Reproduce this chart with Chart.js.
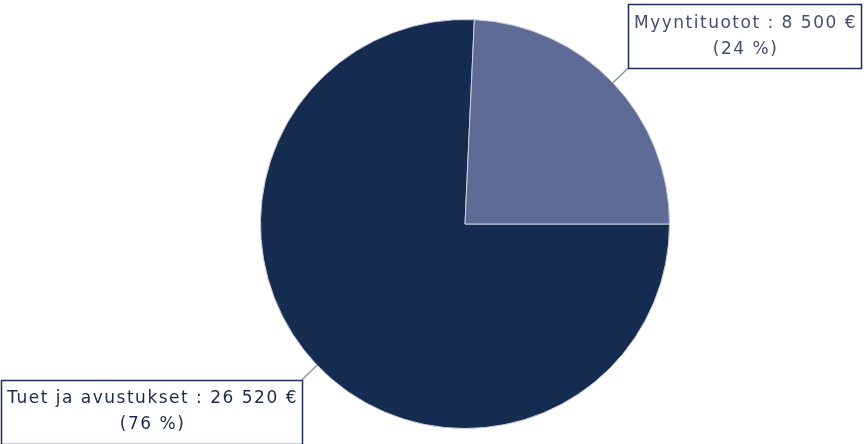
<!DOCTYPE html>
<html>
<head>
<meta charset="utf-8">
<script src="https://cdn.jsdelivr.net/npm/chart.js@4/dist/chart.umd.min.js"></script>
<style>
	html, body { margin: 0; padding: 0; background: #ffffff; }
	#wrap { width: 864px; height: 444px; }
</style>
</head>
<body>
<div id="wrap"><canvas id="pieChart" width="864" height="444"></canvas></div>
<script>
var labels = ['Tuet ja avustukset', 'Myyntituotot'];
var values = [26520, 8500];
var percentLabels = ['(76 %)', '(24 %)'];
var sliceColors = ['#152b4f', '#5e6b94'];

function formatEuro(n) {
	return String(n).replace(/\B(?=(\d{3})+(?!\d))/g, ' ') + ' €';
}

// draws the callout boxes next to each slice
var calloutPlugin = {
	id: 'callouts',
	afterDraw: function(chart) {
		var ctx = chart.ctx;
		var meta = chart.getDatasetMeta(0);
		ctx.save();
		ctx.font = '17px "DejaVu Sans", Verdana, sans-serif';
		ctx.letterSpacing = '1.5px';
		ctx.textAlign = 'center';
		ctx.textBaseline = 'middle';
		for (var i = 0; i < meta.data.length; i++) {
			var arc = meta.data[i];
			var mid = (arc.startAngle + arc.endAngle) / 2;
			var cos = Math.cos(mid), sin = Math.sin(mid);
			var ex = arc.x + cos * arc.outerRadius;
			var ey = arc.y + sin * arc.outerRadius;
			var lx = ex + cos * 21;
			var ly = ey + sin * 21;

			var line1 = labels[i] + ' : ' + formatEuro(values[i]);
			var line2 = percentLabels[i];
			var w = ctx.measureText(line1).width + 10;
			var h = 64;
			var bx = cos >= 0 ? lx : lx - w;
			var by = sin <= 0 ? ly - h : ly;

			ctx.strokeStyle = '#8c95aa';
			ctx.lineWidth = 1.5;
			ctx.beginPath();
			ctx.moveTo(ex, ey);
			ctx.lineTo(lx, ly);
			ctx.stroke();

			ctx.fillStyle = '#ffffff';
			ctx.fillRect(bx, by, w, h);
			ctx.strokeStyle = '#1f2d56';
			ctx.lineWidth = 1.5;
			ctx.strokeRect(Math.round(bx) + 0.5, Math.round(by) + 0.5, Math.round(w), h);

			ctx.fillStyle = i === 0 ? '#1b2a4c' : '#454d6b';
			ctx.fillText(line1, bx + w / 2 + 1, by + 19);
			ctx.fillText(line2, bx + w / 2 + 1, by + 45);
		}
		ctx.restore();
	}
};

var ctx = document.getElementById('pieChart').getContext('2d');
var pieChart = new Chart(ctx, {
	type: 'pie',
	data: {
		labels: labels,
		datasets: [{
			data: values,
			backgroundColor: sliceColors,
			borderColor: '#c9cfdf',
			borderWidth: 1
		}]
	},
	options: {
		responsive: false,
		animation: false,
		rotation: 90,
		layout: { padding: { left: 260, right: 194, top: 19, bottom: 15 } },
		plugins: {
			legend: { display: false },
			tooltip: { enabled: false }
		}
	},
	plugins: [calloutPlugin]
});
</script>
</body>
</html>
